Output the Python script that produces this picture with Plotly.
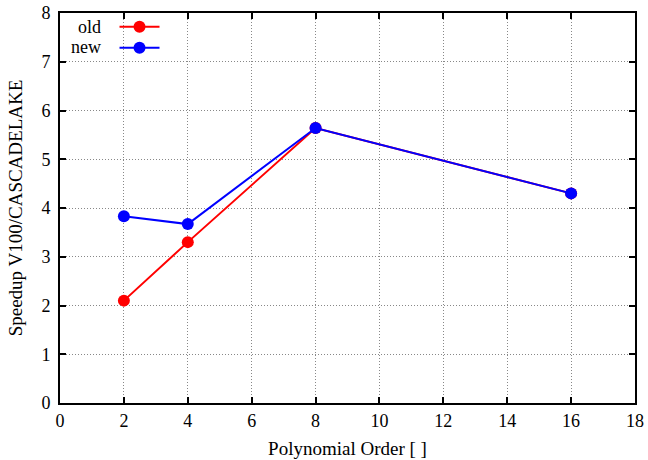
import plotly.graph_objects as go

order_old = [2, 4, 8, 16]
speedup_old = [2.10, 3.30, 5.64, 4.30]
order_new = [2, 4, 8, 16]
speedup_new = [3.83, 3.67, 5.64, 4.30]
series_names = ["old", "new"]
x_ticks = [0, 2, 4, 6, 8, 10, 12, 14, 16, 18]
y_ticks = [0, 1, 2, 3, 4, 5, 6, 7, 8]

font = "Liberation Serif"

fig = go.Figure()
fig.add_trace(go.Scatter(x=order_old, y=speedup_old, mode="lines+markers", name=series_names[0],
                         line=dict(color="#ff0000", width=2),
                         marker=dict(color="#ff0000", size=12)))
fig.add_trace(go.Scatter(x=order_new, y=speedup_new, mode="lines+markers", name=series_names[1],
                         line=dict(color="#0000ff", width=2),
                         marker=dict(color="#0000ff", size=12)))

axis_common = dict(showline=True, linecolor="black", linewidth=2, mirror="ticks",
                   ticks="inside", ticklen=6, tickwidth=1.5, tickcolor="black",
                   showgrid=True, gridcolor="#888888", griddash="1px,2px", gridwidth=1,
                   zeroline=False, automargin=False,
                   tickfont=dict(family=font, size=18, color="black"))

fig.update_xaxes(range=[0, 18], tickvals=x_ticks,
                 title=dict(text="Polynomial Order [ ]", font=dict(family=font, size=19, color="black"), standoff=12),
                 **axis_common)
fig.update_yaxes(range=[0, 8], tickvals=y_ticks, ticklabelstandoff=4,
                 title=dict(text="Speedup V100/CASCADELAKE", font=dict(family=font, size=19, color="black"), standoff=14),
                 **axis_common)

# legend labels drawn to the left of the legend keys (gnuplot style)
for name, ypos in zip(series_names, [0.964, 0.9128]):
    fig.add_annotation(text=name, xref="paper", yref="paper", x=0.0748, y=ypos,
                       xanchor="right", yanchor="middle", showarrow=False,
                       font=dict(family=font, size=18, color="black"))

fig.update_layout(width=648, height=460, margin=dict(l=60, r=13, t=13, b=57, autoexpand=False),
                  paper_bgcolor="white", plot_bgcolor="white",
                  font=dict(family=font, size=18, color="black"),
                  legend=dict(x=0.0948, y=0.976, yref="container", xanchor="left", yanchor="top",
                              bgcolor="rgba(0,0,0,0)",
                              font=dict(family=font, size=14, color="rgba(0,0,0,0)"),
                              itemwidth=40, tracegroupgap=0))

fig.write_html("out.html", config={"displayModeBar": False},
               post_script="document.body.style.margin='0';document.body.style.overflow='hidden';")
